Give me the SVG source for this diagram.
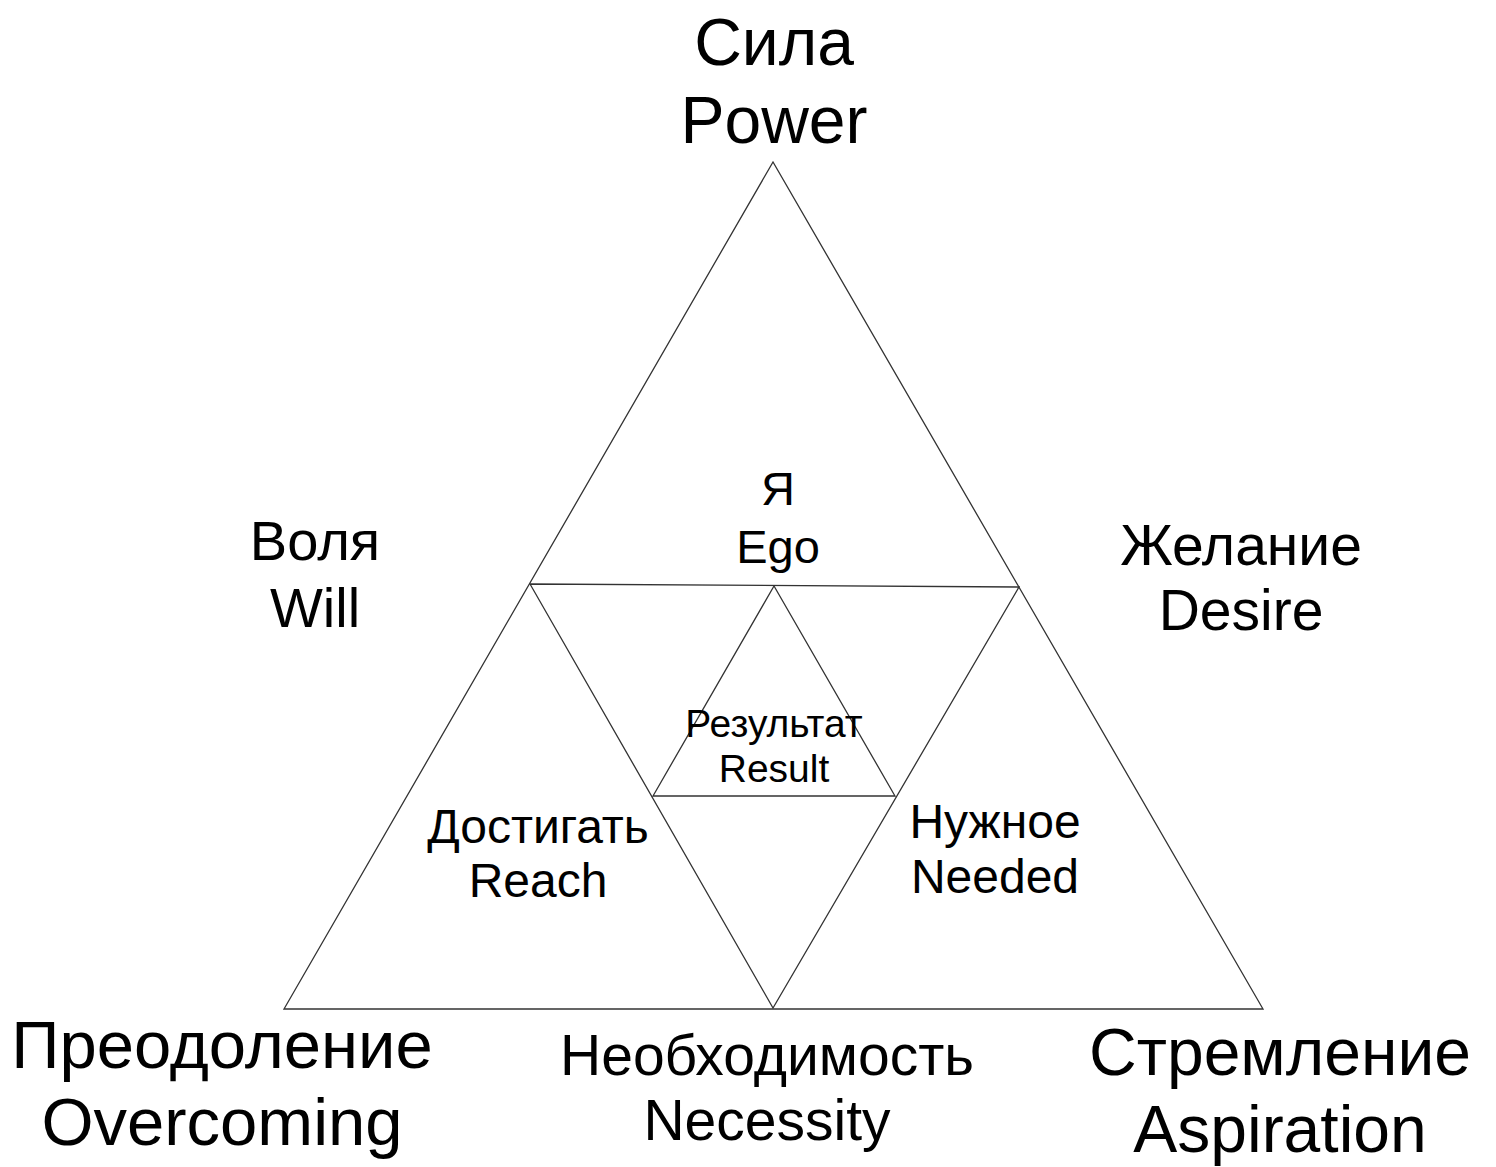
<svg xmlns="http://www.w3.org/2000/svg" width="1496" height="1167" viewBox="0 0 1496 1167">
<style>
.t{font-family:"Liberation Sans",Arial,sans-serif;fill:#000;text-anchor:middle}
.ln{fill:none;stroke:#333;stroke-width:1.3;stroke-linejoin:miter}
</style>
<rect width="1496" height="1167" fill="#fff"/>
<g id="connectors">
<polygon class="ln" points="773,162 284,1009 1263,1009"/>
<polygon class="ln" points="530,584 1019,587 773,1008"/>
<polygon class="ln" points="774,586 653,796 895,796"/>
</g>
<g id="power"><text class="t" x="774" y="65" font-size="66">Сила</text><text class="t" x="774" y="143" font-size="66">Power</text></g>
<g id="will"><text class="t" x="315" y="560" font-size="56">Воля</text><text class="t" x="315" y="627" font-size="56">Will</text></g>
<g id="desire"><text class="t" x="1241" y="565" font-size="57">Желание</text><text class="t" x="1241" y="630" font-size="57">Desire</text></g>
<g id="ego"><text class="t" x="778" y="505" font-size="47">Я</text><text class="t" x="778" y="563" font-size="47">Ego</text></g>
<g id="result"><text class="t" x="774" y="737" font-size="39">Результат</text><text class="t" x="774" y="782" font-size="39">Result</text></g>
<g id="reach"><text class="t" x="538" y="843" font-size="48">Достигать</text><text class="t" x="538" y="897" font-size="48">Reach</text></g>
<g id="needed"><text class="t" x="995" y="838" font-size="48">Нужное</text><text class="t" x="995" y="893" font-size="48">Needed</text></g>
<g id="overcoming"><text class="t" x="222" y="1068" font-size="67">Преодоление</text><text class="t" x="222" y="1145" font-size="67">Overcoming</text></g>
<g id="necessity"><text class="t" x="767" y="1075" font-size="57">Необходимость</text><text class="t" x="767" y="1140" font-size="57">Necessity</text></g>
<g id="aspiration"><text class="t" x="1280" y="1075" font-size="66">Стремление</text><text class="t" x="1280" y="1152" font-size="66">Aspiration</text></g>
</svg>
